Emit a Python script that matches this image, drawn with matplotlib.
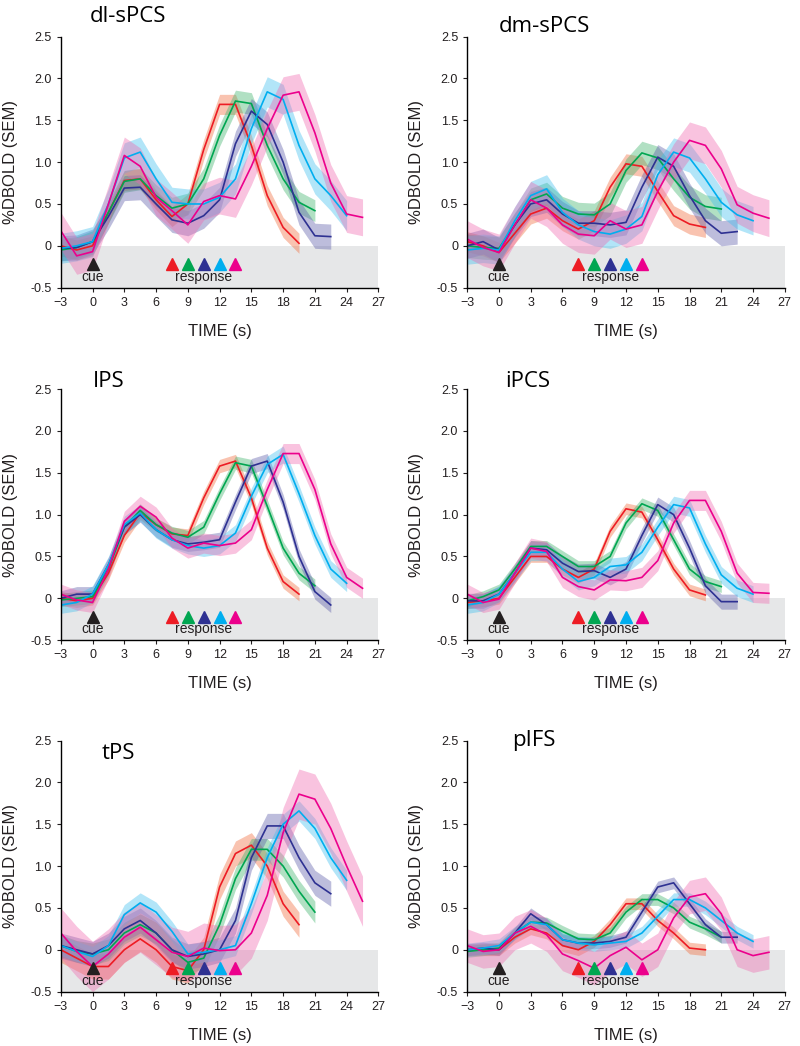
import matplotlib
matplotlib.use("Agg")
import matplotlib.pyplot as plt
import numpy as np

plt.rcParams["font.family"] = ["Liberation Sans", "DejaVu Sans"]

# time axis: samples every 1.5 s starting at -3 s
t_all = [-3 + 1.5 * i for i in range(20)]

colors = ["#ED1C24", "#00A651", "#2E3192", "#00AEEF", "#EC008C"]
band_colors = ["#F26B3A", "#3DB36B", "#5B5BA8", "#3FBFEF", "#F06AAF"]
response_times = [7.5, 9, 10.5, 12, 13.5]

titles = ["dl-sPCS", "dm-sPCS", "IPS", "iPCS", "tPS", "pIFS"]
title_pos = [(0.09, 1.08), (0.10, 1.04), (0.10, 1.03), (0.12, 1.03), (0.13, 0.95), (0.14, 1.00)]

ytick_vals = [-0.5, 0, 0.5, 1.0, 1.5, 2.0, 2.5]
ytick_labels = ["-0.5", "0", "0.5", "1.0", "1.5", "2.0", "2.5"]
xtick_vals = [-3, 0, 3, 6, 9, 12, 15, 18, 21, 24, 27]

# dl-sPCS
dl_red = [0.0, -0.05, 0.0, 0.4, 0.78, 0.80, 0.55, 0.35, 0.5, 1.15, 1.69, 1.69, 1.2, 0.6, 0.22, 0.03]
dl_green = [-0.05, -0.02, 0.05, 0.4, 0.77, 0.8, 0.6, 0.45, 0.5, 0.8, 1.32, 1.73, 1.70, 1.2, 0.8, 0.52, 0.42]
dl_blue = [-0.03, -0.02, 0.05, 0.35, 0.69, 0.70, 0.50, 0.31, 0.27, 0.36, 0.55, 1.22, 1.61, 1.45, 1.0, 0.4, 0.12, 0.11]
dl_cyan = [-0.03, 0.0, 0.05, 0.5, 1.05, 1.12, 0.8, 0.52, 0.5, 0.5, 0.58, 0.8, 1.4, 1.84, 1.75, 1.2, 0.8, 0.6, 0.36]
dl_mag = [0.18, -0.12, -0.07, 0.5, 1.08, 0.95, 0.58, 0.42, 0.25, 0.53, 0.6, 0.56, 0.95, 1.4, 1.80, 1.84, 1.35, 0.75, 0.38, 0.34]
dl_sem = [0.12, 0.13, 0.15, 0.18, 0.22]

# dm-sPCS
dm_red = [0.05, 0.0, -0.08, 0.15, 0.38, 0.45, 0.3, 0.2, 0.3, 0.7, 0.98, 0.95, 0.65, 0.36, 0.26, 0.22]
dm_green = [0.0, -0.02, -0.03, 0.25, 0.55, 0.62, 0.45, 0.38, 0.37, 0.5, 0.9, 1.11, 1.05, 0.8, 0.58, 0.47, 0.44]
dm_blue = [0.0, 0.05, -0.05, 0.25, 0.5, 0.55, 0.38, 0.27, 0.27, 0.25, 0.28, 0.7, 1.06, 0.95, 0.6, 0.3, 0.15, 0.17]
dm_cyan = [-0.05, -0.03, -0.05, 0.3, 0.6, 0.68, 0.4, 0.25, 0.17, 0.14, 0.2, 0.35, 0.85, 1.12, 1.05, 0.8, 0.52, 0.37, 0.3]
dm_mag = [0.08, -0.02, -0.08, 0.25, 0.55, 0.45, 0.25, 0.14, 0.12, 0.3, 0.2, 0.25, 0.65, 1.0, 1.26, 1.2, 0.92, 0.49, 0.39, 0.33]
dm_sem = [0.12, 0.14, 0.15, 0.17, 0.22]

# IPS
ips_red = [0.0, -0.03, 0.0, 0.3, 0.75, 1.02, 0.88, 0.77, 0.75, 1.2, 1.58, 1.64, 1.2, 0.6, 0.2, 0.05]
ips_green = [-0.02, 0.0, 0.02, 0.35, 0.85, 1.05, 0.88, 0.78, 0.73, 0.85, 1.25, 1.62, 1.58, 1.1, 0.6, 0.3, 0.15]
ips_blue = [0.0, 0.05, 0.05, 0.4, 0.85, 1.0, 0.82, 0.7, 0.65, 0.67, 0.7, 1.15, 1.58, 1.64, 1.15, 0.5, 0.08, -0.08]
ips_cyan = [-0.08, -0.05, 0.05, 0.4, 0.88, 1.02, 0.82, 0.7, 0.63, 0.6, 0.63, 0.78, 1.22, 1.6, 1.72, 1.25, 0.75, 0.35, 0.18]
ips_mag = [0.05, -0.02, -0.05, 0.35, 0.92, 1.1, 0.97, 0.72, 0.6, 0.66, 0.63, 0.66, 0.82, 1.3, 1.73, 1.73, 1.3, 0.65, 0.25, 0.12]
ips_sem = [0.08, 0.08, 0.09, 0.10, 0.12]

# iPCS
ipcs_red = [-0.05, -0.03, 0.0, 0.25, 0.5, 0.5, 0.35, 0.25, 0.35, 0.8, 1.07, 1.03, 0.7, 0.35, 0.1, 0.04]
ipcs_green = [-0.03, 0.02, 0.1, 0.35, 0.62, 0.62, 0.5, 0.38, 0.38, 0.5, 0.9, 1.13, 1.05, 0.7, 0.35, 0.2, 0.14]
ipcs_blue = [-0.03, -0.03, 0.05, 0.3, 0.6, 0.58, 0.42, 0.32, 0.33, 0.25, 0.35, 0.75, 1.12, 1.0, 0.6, 0.15, -0.04, -0.04]
ipcs_cyan = [-0.08, -0.05, 0.05, 0.3, 0.55, 0.55, 0.35, 0.2, 0.25, 0.38, 0.4, 0.55, 0.85, 1.12, 1.08, 0.65, 0.28, 0.12, 0.05]
ipcs_mag = [0.05, -0.05, -0.01, 0.3, 0.6, 0.56, 0.25, 0.14, 0.1, 0.22, 0.21, 0.25, 0.45, 0.9, 1.17, 1.17, 0.8, 0.3, 0.07, 0.06]
ipcs_sem = [0.07, 0.07, 0.09, 0.10, 0.12]

# tPS
tps_red = [0.0, -0.1, -0.2, -0.2, 0.0, 0.13, 0.0, -0.2, -0.25, 0.0, 0.75, 1.15, 1.25, 1.0, 0.55, 0.3]
tps_green = [0.05, -0.02, -0.05, 0.0, 0.2, 0.3, 0.2, 0.0, -0.15, -0.1, 0.3, 0.85, 1.2, 1.2, 1.0, 0.7, 0.45]
tps_blue = [0.05, 0.0, -0.05, 0.05, 0.25, 0.35, 0.2, 0.0, -0.08, -0.05, 0.0, 0.35, 1.1, 1.48, 1.48, 1.1, 0.8, 0.67]
tps_cyan = [0.05, -0.02, -0.08, 0.05, 0.42, 0.56, 0.45, 0.22, -0.05, -0.03, 0.0, 0.05, 0.55, 1.1, 1.5, 1.66, 1.45, 1.1, 0.83]
tps_mag = [0.2, -0.02, -0.2, -0.05, 0.15, 0.27, 0.12, -0.03, -0.08, 0.02, -0.01, 0.0, 0.2, 0.65, 1.4, 1.86, 1.8, 1.45, 1.0, 0.58]
tps_sem = [0.15, 0.13, 0.15, 0.12, 0.30]

# pIFS
pifs_red = [0.0, 0.0, 0.0, 0.15, 0.25, 0.2, 0.05, 0.0, 0.1, 0.3, 0.55, 0.55, 0.35, 0.2, 0.02, 0.0]
pifs_green = [-0.02, 0.0, 0.02, 0.2, 0.33, 0.32, 0.22, 0.13, 0.12, 0.2, 0.45, 0.6, 0.6, 0.5, 0.33, 0.25, 0.15]
pifs_blue = [0.0, 0.02, 0.0, 0.2, 0.43, 0.3, 0.12, 0.08, 0.08, 0.1, 0.15, 0.45, 0.75, 0.8, 0.55, 0.3, 0.15, 0.15]
pifs_cyan = [0.0, 0.02, 0.05, 0.2, 0.33, 0.3, 0.12, 0.08, 0.06, 0.08, 0.1, 0.2, 0.4, 0.6, 0.6, 0.5, 0.35, 0.2, 0.1]
pifs_mag = [0.05, -0.02, 0.0, 0.2, 0.28, 0.18, -0.05, -0.13, -0.22, -0.07, 0.03, -0.12, 0.0, 0.38, 0.63, 0.67, 0.43, 0.0, -0.07, -0.03]
pifs_sem = [0.07, 0.07, 0.07, 0.08, 0.20]

panels = [
    ([dl_red, dl_green, dl_blue, dl_cyan, dl_mag], dl_sem),
    ([dm_red, dm_green, dm_blue, dm_cyan, dm_mag], dm_sem),
    ([ips_red, ips_green, ips_blue, ips_cyan, ips_mag], ips_sem),
    ([ipcs_red, ipcs_green, ipcs_blue, ipcs_cyan, ipcs_mag], ipcs_sem),
    ([tps_red, tps_green, tps_blue, tps_cyan, tps_mag], tps_sem),
    ([pifs_red, pifs_green, pifs_blue, pifs_cyan, pifs_mag], pifs_sem),
]

# axes boxes in figure fractions (left, bottom, width, height)
col_x = [0.076, 0.584]
row_y = [0.725, 0.388, 0.052]
ax_w, ax_h = 0.397, 0.240

fig = plt.figure(figsize=(8, 10.46), dpi=100)

for k, (series, sems) in enumerate(panels):
    r, c = divmod(k, 2)
    ax = fig.add_axes([col_x[c], row_y[r], ax_w, ax_h])

    ax.axhspan(-0.5, 0, color="#E6E7E8", zorder=0, lw=0)

    for vals, sem, col, bcol in zip(series, sems, colors, band_colors):
        t = np.array(t_all[:len(vals)])
        v = np.array(vals)
        ax.fill_between(t, v - sem, v + sem, color=bcol, alpha=0.4, lw=0, zorder=1)
        ax.plot(t, v, color=col, lw=1.2, zorder=2)

    # cue / response markers
    ax.plot([0], [-0.22], marker="^", color="#231F20", ms=9, ls="none", zorder=3)
    ax.text(0, -0.37, "cue", ha="center", va="center", fontsize=10, color="#231F20")
    for rt, col in zip(response_times, colors):
        ax.plot([rt], [-0.22], marker="^", color=col, ms=9, ls="none", zorder=3)
    ax.text(np.mean(response_times), -0.37, "response", ha="center", va="center",
            fontsize=10, color="#231F20")

    ax.set_xlim(-3, 27)
    ax.set_ylim(-0.5, 2.5)
    ax.set_xticks(xtick_vals)
    ax.set_yticks(ytick_vals)
    ax.set_yticklabels(ytick_labels)
    ax.tick_params(labelsize=9, length=3, direction="out", colors="#231F20")
    for s in ["top", "right"]:
        ax.spines[s].set_visible(False)
    ax.spines["left"].set_linewidth(1.0)
    ax.spines["bottom"].set_linewidth(1.0)

    ax.set_ylabel("%DBOLD (SEM)", fontsize=12, labelpad=9, color="#231F20")
    ax.set_xlabel("TIME (s)", fontsize=12, labelpad=11, color="#231F20")

    tx, ty = title_pos[k]
    ax.text(tx, ty, titles[k], transform=ax.transAxes, fontsize=16,
            family=["Open Sans", "DejaVu Sans"], ha="left", va="center")

fig.savefig("out.png", dpi=100)
